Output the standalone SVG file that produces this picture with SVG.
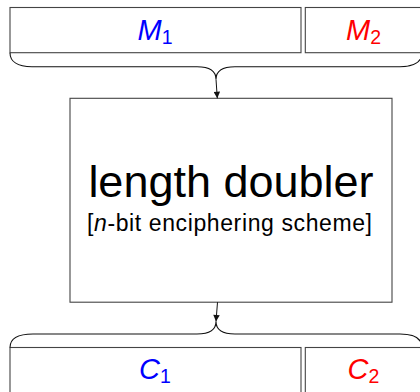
<svg xmlns="http://www.w3.org/2000/svg" width="420" height="392" viewBox="0 0 420 392">
  <defs>
    <style>
      .box { fill: #ffffff; stroke: #444444; stroke-width: 1.1; }
      .brace { fill: none; stroke: #111111; stroke-width: 1.1; }
      .wire { fill: none; stroke: #111111; stroke-width: 1; }
      .lbl { font-family: "Liberation Sans", Arial, Helvetica, sans-serif; text-anchor: middle; }
      .var { font-style: italic; font-size: 29px; }
      .sub { font-style: normal; font-size: 19.5px; }
      .blue { fill: #0000ff; }
      .red { fill: #ff0000; }
      .title { font-size: 45px; fill: #000000; }
      .note { font-size: 23px; fill: #000000; }
    </style>
    <marker id="arrowhead" viewBox="0 0 10 10" refX="10" refY="5" markerWidth="10" markerHeight="6.5" markerUnits="userSpaceOnUse" orient="auto">
      <path d="M0,0 L10,5 L0,10 z" fill="#111111"/>
    </marker>
  </defs>

  <!-- input halves -->
  <g id="m1">
    <rect class="box" x="10" y="7.5" width="291" height="45.2"/>
    <text class="lbl blue" x="155" y="39.5"><tspan class="var">M</tspan><tspan class="sub" dy="4">1</tspan></text>
  </g>
  <g id="m2">
    <rect class="box" x="305.3" y="7.5" width="130" height="45.2"/>
    <text class="lbl red" x="363.5" y="39.5"><tspan class="var">M</tspan><tspan class="sub" dy="4">2</tspan></text>
  </g>

  <!-- cipher -->
  <g id="doubler">
    <rect class="box" x="70" y="98.3" width="322" height="203.9"/>
    <text class="lbl title" x="231" y="196.5">length doubler</text>
    <text class="lbl note" x="229.5" y="230.5" textLength="285" lengthAdjust="spacing">[<tspan font-style="italic">n</tspan>-bit enciphering scheme]</text>
  </g>

  <!-- output halves -->
  <g id="c1">
    <rect class="box" x="10" y="347.5" width="291" height="60"/>
    <text class="lbl blue" x="155" y="378.5"><tspan class="var">C</tspan><tspan class="sub" dy="4">1</tspan></text>
  </g>
  <g id="c2">
    <rect class="box" x="305.3" y="347.5" width="130" height="60"/>
    <text class="lbl red" x="363.5" y="378.5"><tspan class="var">C</tspan><tspan class="sub" dy="4">2</tspan></text>
  </g>

  <!-- braces and arrows -->
  <g id="connectors">
    <path class="brace" d="M10,52.7 C10,61 17,66.7 32,66.7 L197,66.7 C208,66.7 216,70 216,79.3 C216,70 224,66.7 235,66.7 L400,66.7 C415,66.7 422,61 422,52.7"/>
    <path class="wire" d="M216,79.3 L217.3,98.3" marker-end="url(#arrowhead)"/>
    <path class="brace" d="M10,347.5 C10,339 17,334 33,334 L197,334 C208,334 216,331 216,321.5 C216,331 224,334 235,334 L400,334 C415,334 422,339 422,347.5"/>
    <path class="wire" d="M217.5,302.2 L216,321.5" marker-end="url(#arrowhead)"/>
  </g>
</svg>
